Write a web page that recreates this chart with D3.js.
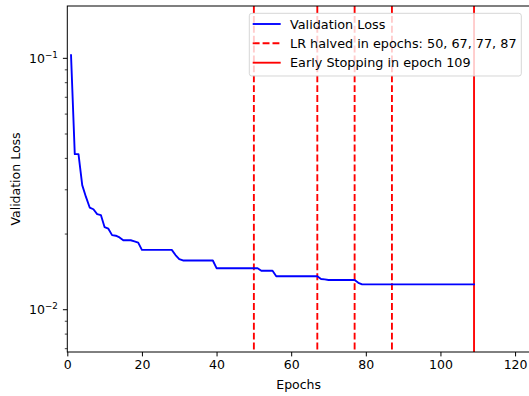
<!DOCTYPE html>
<html>
<head>
<meta charset="utf-8">
<script src="https://cdn.jsdelivr.net/npm/d3@7"></script>
<style>
  html, body { margin: 0; padding: 0; background: #fff; }
  svg { display: block; }
  text { font-family: "DejaVu Sans", sans-serif; }
</style>
</head>
<body>
<svg id="chart" width="529" height="396"></svg>
<script>
// ---- data ----
const valLoss = [
  0.103, 0.0416, 0.0416, 0.0313, 0.0281, 0.0255, 0.0251, 0.0240, 0.0238, 0.0213,
  0.0210, 0.0198, 0.0197, 0.0194, 0.0189, 0.0189, 0.0189, 0.0187, 0.0185, 0.0173,
  0.0173, 0.0173, 0.0173, 0.0173, 0.0173, 0.0173, 0.0173, 0.0173, 0.0165, 0.0159,
  0.0157, 0.0157, 0.0157, 0.0157, 0.0157, 0.0157, 0.0157, 0.0157, 0.0157, 0.01463,
  0.01463, 0.01463, 0.01463, 0.01463, 0.01463, 0.01463, 0.01463, 0.01463, 0.01463, 0.01463,
  0.01463, 0.01429, 0.01429, 0.01429, 0.01429, 0.01359, 0.01359, 0.01359, 0.01359, 0.01359,
  0.01359, 0.01359, 0.01359, 0.01359, 0.01359, 0.01359, 0.01359, 0.01325, 0.0132, 0.01313,
  0.01313, 0.01313, 0.01313, 0.01313, 0.01313, 0.01313, 0.01313, 0.0128, 0.01262, 0.01262,
  0.01262, 0.01262, 0.01262, 0.01262, 0.01262, 0.01262, 0.01262, 0.01262, 0.01262, 0.01262,
  0.01262, 0.01262, 0.01262, 0.01262, 0.01262, 0.01262, 0.01262, 0.01262, 0.01262, 0.01262,
  0.01262, 0.01262, 0.01262, 0.01262, 0.01262, 0.01262, 0.01262, 0.01262, 0.01262
];
const lrHalvedEpochs = [50, 67, 77, 87];
const earlyStopEpoch = 109;
const xTicks = [0, 20, 40, 60, 80, 100, 120];
const yMajorTicks = [0.01, 0.1];
const yMajorExp = ["−2", "−1"];
const xDomain = [0, 124];
const yDomain = [0.00679, 0.1615];
const legendLabels = ["Validation Loss", "LR halved in epochs: 50, 67, 77, 87", "Early Stopping in epoch 109"];

// ---- layout ----
const L = 67.3, T = 6, R = 530, B = 352;
const svg = d3.select("#chart");
const x = d3.scaleLinear().domain(xDomain).range([L, R]);
const y = d3.scaleLog().domain(yDomain).range([B, T]);
const FS = 12.5;
const LFS = 12.8;

const pts = valLoss.map((v, i) => ({ e: i + 1, v }));

// vertical lines
svg.append("g").selectAll("line.lr").data(lrHalvedEpochs).join("line")
  .attr("x1", d => x(d)).attr("x2", d => x(d)).attr("y1", T).attr("y2", B)
  .attr("stroke", "#ff0000").attr("stroke-width", 1.875).attr("stroke-dasharray", "6.9,3");
svg.append("line")
  .attr("x1", x(earlyStopEpoch)).attr("x2", x(earlyStopEpoch)).attr("y1", T).attr("y2", B)
  .attr("stroke", "#ff0000").attr("stroke-width", 1.875);

// loss line
svg.append("path").datum(pts)
  .attr("d", d3.line().x(d => x(d.e)).y(d => y(d.v)))
  .attr("fill", "none").attr("stroke", "#0000ff").attr("stroke-width", 1.875)
  .attr("stroke-linejoin", "round").attr("stroke-linecap", "square");

// spines
const sp = svg.append("g").attr("stroke", "#000").attr("stroke-width", 1).attr("fill", "none");
sp.append("rect").attr("x", L).attr("y", T).attr("width", R - L).attr("height", B - T);

// x axis
const xAxis = svg.append("g").attr("transform", `translate(0,${B})`)
  .call(d3.axisBottom(x).tickValues(xTicks).tickSize(4.4).tickPadding(4.2).tickFormat(d3.format("d")));
xAxis.select(".domain").remove();
xAxis.selectAll("text").attr("font-size", FS).attr("font-family", "DejaVu Sans").attr("fill", "#000");
xAxis.selectAll("line").attr("stroke", "#000");

// y axis minor ticks
const minor = [];
[0.001, 0.01, 0.1].forEach(base => {
  for (let k = 2; k <= 9; k++) {
    const v = base * k;
    if (v >= yDomain[0] && v <= yDomain[1]) minor.push(v);
  }
});
svg.append("g").selectAll("line").data(minor).join("line")
  .attr("x1", L - 2.5).attr("x2", L).attr("y1", d => y(d)).attr("y2", d => y(d))
  .attr("stroke", "#000").attr("stroke-width", 0.75);
svg.append("g").selectAll("line").data(yMajorTicks).join("line")
  .attr("x1", L - 4.4).attr("x2", L).attr("y1", d => y(d)).attr("y2", d => y(d))
  .attr("stroke", "#000").attr("stroke-width", 1);
const yl = svg.append("g").selectAll("text").data(yMajorTicks).join("text")
  .attr("x", L - 9.5).attr("y", d => y(d) + 4.6)
  .attr("text-anchor", "end").attr("font-size", FS).attr("fill", "#000");
yl.append("tspan").text("10");
yl.append("tspan").attr("font-size", FS * 0.7).attr("dy", -5.2).text((d, i) => yMajorExp[i]);

// axis labels
svg.append("text").attr("x", (L + R) / 2).attr("y", 389)
  .attr("text-anchor", "middle").attr("font-size", FS).text("Epochs");
svg.append("text").attr("transform", `translate(19.5,${(T + B) / 2}) rotate(-90)`)
  .attr("text-anchor", "middle").attr("font-size", FS).text("Validation Loss");

// legend
const lg = svg.append("g");
lg.append("rect").attr("x", 249.3).attr("y", 13.3).attr("width", 272).attr("height", 62.7)
  .attr("rx", 2.5).attr("fill", "#fff").attr("fill-opacity", 0.8)
  .attr("stroke", "#cccccc").attr("stroke-opacity", 0.8).attr("stroke-width", 1);
const rows = [24, 43.3, 62.7];
const styles = [
  { c: "#0000ff", dash: null },
  { c: "#ff0000", dash: "6.9,3" },
  { c: "#ff0000", dash: null }
];
legendLabels.forEach((lab, i) => {
  lg.append("line").attr("x1", 252.7).attr("x2", 280.7).attr("y1", rows[i]).attr("y2", rows[i])
    .attr("stroke", styles[i].c).attr("stroke-width", 1.875)
    .attr("stroke-dasharray", styles[i].dash);
  lg.append("text").attr("x", 290).attr("y", rows[i] + 4.6).attr("font-size", LFS).attr("fill", "#000").text(lab);
});
</script>
</body>
</html>
